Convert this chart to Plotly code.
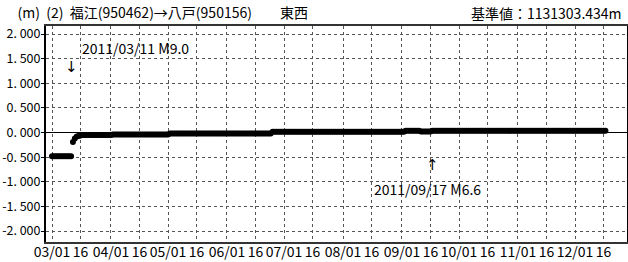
import pandas as pd
import numpy as np
import plotly.graph_objects as go

# Daily solutions (value, number of days)
start_date = "2011-03-01"
run_values = [-0.48, -0.19, -0.12, -0.08, -0.07, -0.06, -0.05, -0.04, -0.02, 0.015, 0.035, 0.02, 0.035]
run_days   = [11,     1,     1,     1,     1,     1,     16,    30,    54,    70,    8,     6,     92]
open_from = "2011-12-19"   # last points drawn as open circles

y_ticks = [2.0, 1.5, 1.0, 0.5, 0.0, -0.5, -1.0, -1.5, -2.0]
y_labels = ["2. 000", "1. 500", "1. 000", "0. 500", "0. 000", "-0. 500", "-1. 000", "-1. 500", "-2. 000"]
months = ["03", "04", "05", "06", "07", "08", "09", "10", "11", "12"]

title_left = "(m)  (2)  福江(950462)→八戸(950156)　　東西"
title_right = "基準値：1131303.434m"
events = [("2011-03-11", "2011/03/11 M9.0", "↓"), ("2011-09-17", "2011/09/17 M6.6", "↑")]

values = np.repeat(run_values, run_days)
dates = pd.date_range(start_date, periods=len(values), freq="D")
df = pd.DataFrame({"d": dates, "v": values})
solid = df[df.d < open_from]
hollow = df[df.d >= open_from]

FONT = "Noto Sans CJK JP"
ARROW_FONT = "DejaVu Sans"
fig = go.Figure()
fig.add_trace(go.Scatter(x=solid.d, y=solid.v, mode="markers",
                         marker=dict(color="black", size=6, line=dict(width=0))))
fig.add_trace(go.Scatter(x=hollow.d, y=hollow.v, mode="markers",
                         marker=dict(color="black", size=5, symbol="circle-open", line=dict(width=1))))

tickvals, ticktext = [], []
for m in months:
    tickvals += [f"2011-{m}-01", f"2011-{m}-16"]
    ticktext += [f"{m}/01", "16"]

fig.update_xaxes(range=["2011-02-25 20:00", "2011-12-28 08:00"], tickmode="array",
                 tickvals=tickvals, ticktext=ticktext, showgrid=True, gridcolor="#555",
                 griddash="dot", gridwidth=1, showline=True, linecolor="#333", linewidth=2,
                 mirror=True, ticks="", automargin=False, ticklabelstandoff=-4,
                 tickfont=dict(family=FONT, size=14, color="black"))
fig.update_yaxes(range=[-2.223, 2.163], tickmode="array", tickvals=y_ticks, ticktext=y_labels,
                 showgrid=True, gridcolor="#555", griddash="dot", gridwidth=1,
                 zeroline=True, zerolinecolor="black", zerolinewidth=1,
                 showline=True, linecolor="black", linewidth=2, mirror=True,
                 ticks="outside", ticklen=3, tickcolor="black", automargin=False,
                 ticklabelstandoff=-2,
                 tickfont=dict(family=FONT, size=12.5, color="black"))

ann = [dict(text=title_right, xref="paper", yref="paper", x=1.0, y=1.0, yshift=13, xshift=-3,
            xanchor="right", yanchor="middle", showarrow=False,
            font=dict(family=FONT, size=14, color="black"))]
ev_pos = [(1.716, 1.33), (-1.147, -0.66)]
for (d, label, arrow), (ty, ay) in zip(events, ev_pos):
    ann.append(dict(text=label, x=d, y=ty, xanchor="left", yanchor="middle", showarrow=False,
                    xshift=9 if arrow == "↓" else -60,
                    font=dict(family=FONT, size=14, color="black")))
    ann.append(dict(text=arrow, x=d, y=ay, xanchor="center", yanchor="middle", showarrow=False,
                    font=dict(family=ARROW_FONT, size=15, color="black")))

fig.update_layout(width=628, height=262, margin=dict(l=46, r=1, t=26, b=20),
                  paper_bgcolor="white", plot_bgcolor="white", showlegend=False,
                  title=dict(text=title_left, x=0.028, xanchor="left", xref="container",
                             y=0.95, yanchor="middle", yref="container",
                             font=dict(family=FONT, size=14, color="black")),
                  annotations=ann)
fig.write_html("out.html", config={"displayModeBar": False},
               post_script="document.body.style.margin='0';")
